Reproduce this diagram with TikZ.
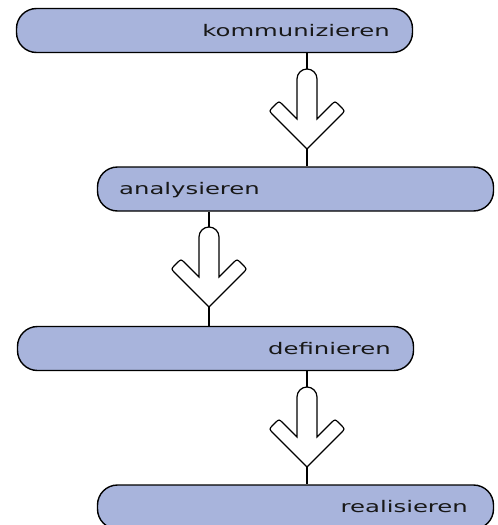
\documentclass[tikz,border=0pt]{standalone}
\usepackage{graphicx}
\usepackage{fontspec}
\setmainfont{DejaVu Sans}

\definecolor{boxfill}{HTML}{A8B4DC}
\definecolor{ink}{HTML}{181818}

% wide lettering for the step labels
\newcommand{\widetext}[1]{\scalebox{1.52}[1]{#1}}

\tikzset{
  stepbox/.style={draw=black, fill=boxfill, line width=1.4pt,
    rounded corners=20pt, minimum width=396pt, minimum height=44pt,
    inner sep=0pt},
  steplabel/.style={inner sep=0pt, text=ink,
    font=\fontsize{16}{19}\selectfont},
  conn/.style={draw=black, line width=1.2pt},
  arrowline/.style={draw=black, line width=1.2pt, fill=white, line join=miter},
  hollow arrow/.pic={
    \path[arrowline] (0,0) -- (-33.76,-33.76) .. controls (-38,-38) .. (-33.76,-42.24)
      -- (-32.24,-43.76) .. controls (-28,-48) .. (-23.76,-43.76)
      -- (-10,-30) -- (-10,-70)
      .. controls (-10,-75.52) and (-5.52,-80) .. (0,-80)
      .. controls (5.52,-80) and (10,-75.52) .. (10,-70)
      -- (10,-30) -- (23.76,-43.76) .. controls (28,-48) .. (32.24,-43.76)
      -- (33.76,-42.24) .. controls (38,-38) .. (33.76,-33.76) -- cycle;
  }
}

\begin{document}
\begin{tikzpicture}[x=1pt, y=-1pt]
  \useasboundingbox (0,0) rectangle (498,525);
  \clip (0,0) rectangle (498,525);

  % process steps
  \node[stepbox] (kom) at (214.5,30.5) {};
  \node[stepbox] (ana) at (295.5,189) {};
  \node[stepbox] (def) at (215.5,348.5) {};
  \node[stepbox] (rea) at (295.5,507) {};

  \node[steplabel, anchor=base east] (komt) at (390,36) {\widetext{kommunizieren}};
  \node[steplabel, anchor=base west] (anat) at (119,194) {\widetext{analysieren}};
  \node[steplabel, anchor=base east] (deft) at (391,354) {\widetext{definieren}};
  \node[steplabel, anchor=base east] (reat) at (468,512) {\widetext{realisieren}};

  % arrow tips
  \coordinate (t1) at (307,149);
  \coordinate (t2) at (209,307);
  \coordinate (t3) at (307,467);

  % connectors
  \draw[conn] (kom.south -| t1) -- (ana.north -| t1);
  \draw[conn] (ana.south -| t2) -- (def.north -| t2);
  \draw[conn] (def.south -| t3) -- (rea.north -| t3);

  % hollow arrows over the connectors
  \pic at (t1) {hollow arrow};
  \pic at (t2) {hollow arrow};
  \pic at (t3) {hollow arrow};
\end{tikzpicture}
\end{document}
